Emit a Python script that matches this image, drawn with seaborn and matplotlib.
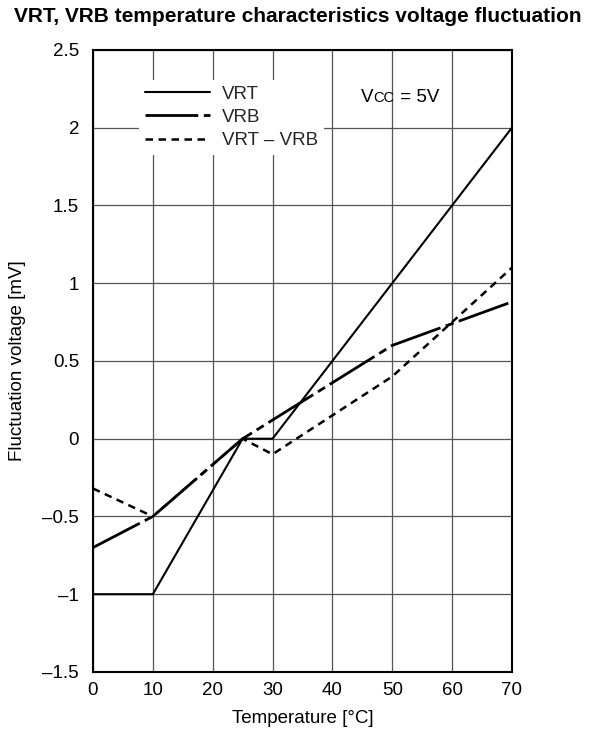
import matplotlib
matplotlib.use("Agg")
import matplotlib.pyplot as plt
import seaborn as sns
import pandas as pd
from matplotlib.offsetbox import TextArea, HPacker, AnnotationBbox

# ---- data ----
temp_vrt = [0, 10, 25, 30, 50, 70]
vrt = [-1.0, -1.0, 0.0, 0.0, 1.0, 2.0]
temp_vrb = [0, 10, 25, 50, 70]
vrb = [-0.70, -0.50, 0.0, 0.60, 0.88]
temp_diff = [0, 10, 25, 30, 50, 70]
diff = [-0.32, -0.50, 0.0, -0.10, 0.40, 1.10]

x_ticks = [0, 10, 20, 30, 40, 50, 60, 70]
y_ticks = [-1.5, -1, -0.5, 0, 0.5, 1, 1.5, 2, 2.5]
y_tick_labels = ["–1.5", "–1", "–0.5", "0", "0.5", "1", "1.5", "2", "2.5"]
series_labels = ["VRT", "VRB", "VRT – VRB"]

title = "VRT, VRB temperature characteristics voltage fluctuation"
xlabel = "Temperature [°C]"
ylabel = "Fluctuation voltage [mV]"

FS = 13.5

sns.set_theme(style="white")
plt.rcParams["font.family"] = ["Liberation Sans", "DejaVu Sans"]

fig = plt.figure(figsize=(5.96, 7.34), dpi=100)
ax = fig.add_axes([0.156, 0.0845, 0.703, 0.8475])

df1 = pd.DataFrame({"t": temp_vrt, "v": vrt})
df2 = pd.DataFrame({"t": temp_vrb, "v": vrb})
df3 = pd.DataFrame({"t": temp_diff, "v": diff})

sns.lineplot(data=df1, x="t", y="v", ax=ax, color="black", lw=1.5, label=series_labels[0], legend=False)
l1 = ax.lines[-1]
sns.lineplot(data=df2, x="t", y="v", ax=ax, color="black", lw=2.0, label=series_labels[1], legend=False)
l2 = ax.lines[-1]
l2.set_dashes([19, 2, 3, 2])
sns.lineplot(data=df3, x="t", y="v", ax=ax, color="black", lw=1.8, label=series_labels[2], legend=False)
l3 = ax.lines[-1]
l3.set_dashes([3, 2.2])

ax.set_xlim(0, 70)
ax.set_ylim(-1.5, 2.5)
ax.set_xticks(x_ticks)
ax.set_xticklabels([str(t) for t in x_ticks])
ax.set_yticks(y_ticks)
ax.set_yticklabels(y_tick_labels)
ax.tick_params(axis="y", length=0, labelsize=FS, colors="black", pad=10)
ax.tick_params(axis="x", length=0, labelsize=FS, colors="black", pad=7)
ax.grid(True, color="#555555", lw=0.9)
for s in ax.spines.values():
    s.set_color("black")
    s.set_linewidth(1.5)

ax.set_xlabel(xlabel, fontsize=FS, color="black", labelpad=8)
ax.set_ylabel(ylabel, fontsize=FS, color="black", labelpad=12)
fig.text(0.5, 0.977, title, ha="center", va="center", fontsize=15, fontweight="bold", color="black")

leg = ax.legend(handles=[l1, l2, l3], labels=series_labels, loc="upper left",
                bbox_to_anchor=(0.11, 0.952), frameon=True, fontsize=FS,
                handlelength=3.47, handletextpad=0.64, labelspacing=0.33,
                borderpad=0.3, borderaxespad=0, facecolor="white", edgecolor="white", framealpha=1)
leg.get_frame().set_linewidth(0)

ta = HPacker(children=[TextArea("V", textprops=dict(fontsize=FS, color="black")),
                       TextArea("CC", textprops=dict(fontsize=10.5, color="black")),
                       TextArea(" = 5V", textprops=dict(fontsize=FS, color="black"))],
             align="baseline", pad=0, sep=0)
ab = AnnotationBbox(ta, (0.733, 0.924), xycoords="axes fraction", frameon=False,
                    box_alignment=(0.5, 0.5))
ax.add_artist(ab)

fig.savefig("out.png", dpi=100)
